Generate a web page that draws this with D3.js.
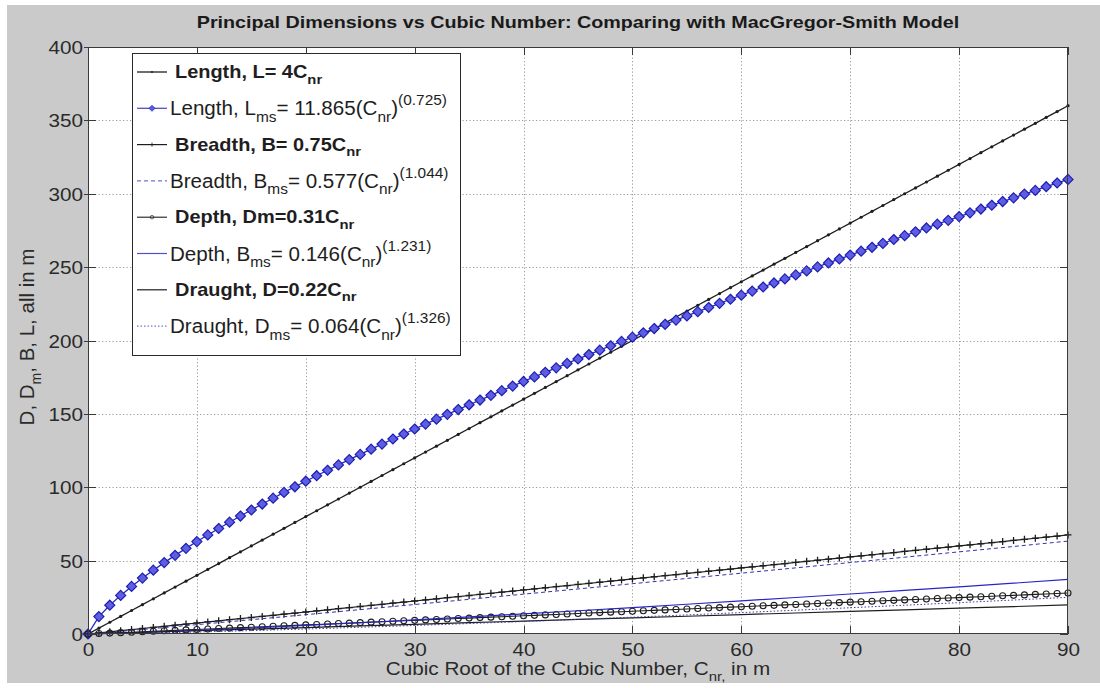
<!DOCTYPE html>
<html>
<head>
<meta charset="utf-8">
<script src="https://cdn.jsdelivr.net/npm/d3@7"></script>
<style>
  html, body { margin: 0; padding: 0; background: #ffffff; }
  svg { display: block; }
</style>
</head>
<body>
<svg id="fig" width="1100" height="688"></svg>
<script>
// Cubic root of the cubic number, sampled at every metre (marker series)
const cnr = [
  0, 1, 2, 3, 4, 5, 6, 7, 8, 9,
  10, 11, 12, 13, 14, 15, 16, 17, 18, 19,
  20, 21, 22, 23, 24, 25, 26, 27, 28, 29,
  30, 31, 32, 33, 34, 35, 36, 37, 38, 39,
  40, 41, 42, 43, 44, 45, 46, 47, 48, 49,
  50, 51, 52, 53, 54, 55, 56, 57, 58, 59,
  60, 61, 62, 63, 64, 65, 66, 67, 68, 69,
  70, 71, 72, 73, 74, 75, 76, 77, 78, 79,
  80, 81, 82, 83, 84, 85, 86, 87, 88, 89,
  90
];

// Coarser sampling used by the plain (marker-less) curves
const cnrCoarse = [0, 5, 10, 15, 20, 25, 30, 35, 40, 45, 50, 55, 60, 65, 70, 75, 80, 85, 90];

// Length, L = 4 Cnr
const lengthLinear = [
  0, 4, 8, 12, 16, 20, 24, 28, 32, 36,
  40, 44, 48, 52, 56, 60, 64, 68, 72, 76,
  80, 84, 88, 92, 96, 100, 104, 108, 112, 116,
  120, 124, 128, 132, 136, 140, 144, 148, 152, 156,
  160, 164, 168, 172, 176, 180, 184, 188, 192, 196,
  200, 204, 208, 212, 216, 220, 224, 228, 232, 236,
  240, 244, 248, 252, 256, 260, 264, 268, 272, 276,
  280, 284, 288, 292, 296, 300, 304, 308, 312, 316,
  320, 324, 328, 332, 336, 340, 344, 348, 352, 356,
  360
];

// Length, MacGregor-Smith: Lms = 11.865 Cnr^0.725
const lengthMs = [
  0, 11.87, 19.61, 26.31, 32.42, 38.11, 43.49, 48.64, 53.58, 58.36,
  62.99, 67.50, 71.89, 76.19, 80.39, 84.51, 88.56, 92.54, 96.46, 100.32,
  104.11, 107.86, 111.57, 115.22, 118.83, 122.38, 125.93, 129.42, 132.88, 136.30,
  139.68, 143.06, 146.39, 149.69, 152.96, 156.20, 159.43, 162.63, 165.81, 168.96,
  172.08, 175.20, 178.29, 181.36, 184.40, 187.42, 190.44, 193.44, 196.41, 199.37,
  202.29, 205.23, 208.15, 211.04, 213.91, 216.77, 219.64, 222.47, 225.30, 228.10,
  230.89, 233.69, 236.46, 239.21, 241.96, 244.68, 247.42, 250.13, 252.83, 255.52,
  258.19, 260.87, 263.52, 266.18, 268.82, 271.42, 274.07, 276.68, 279.27, 281.87,
  284.44, 287.01, 289.59, 292.15, 294.69, 297.22, 299.77, 302.28, 304.80, 307.31,
  309.78
];

// Breadth, B = 0.75 Cnr
const breadthLinear = [
  0, 0.75, 1.5, 2.25, 3, 3.75, 4.5, 5.25, 6, 6.75,
  7.5, 8.25, 9, 9.75, 10.5, 11.25, 12, 12.75, 13.5, 14.25,
  15, 15.75, 16.5, 17.25, 18, 18.75, 19.5, 20.25, 21, 21.75,
  22.5, 23.25, 24, 24.75, 25.5, 26.25, 27, 27.75, 28.5, 29.25,
  30, 30.75, 31.5, 32.25, 33, 33.75, 34.5, 35.25, 36, 36.75,
  37.5, 38.25, 39, 39.75, 40.5, 41.25, 42, 42.75, 43.5, 44.25,
  45, 45.75, 46.5, 47.25, 48, 48.75, 49.5, 50.25, 51, 51.75,
  52.5, 53.25, 54, 54.75, 55.5, 56.25, 57, 57.75, 58.5, 59.25,
  60, 60.75, 61.5, 62.25, 63, 63.75, 64.5, 65.25, 66, 66.75,
  67.5
];

// Breadth, MacGregor-Smith: Bms = 0.577 Cnr^1.044 (at cnrCoarse)
const breadthMs = [0, 3.10, 6.39, 9.75, 13.17, 16.62, 20.10, 23.62, 27.15, 30.70,
  34.27, 37.85, 41.45, 45.07, 48.69, 52.33, 55.98, 59.63, 63.30];

// Depth, Dm = 0.31 Cnr
const depthLinear = [
  0, 0.31, 0.62, 0.93, 1.24, 1.55, 1.86, 2.17, 2.48, 2.79,
  3.1, 3.41, 3.72, 4.03, 4.34, 4.65, 4.96, 5.27, 5.58, 5.89,
  6.2, 6.51, 6.82, 7.13, 7.44, 7.75, 8.06, 8.37, 8.68, 8.99,
  9.3, 9.61, 9.92, 10.23, 10.54, 10.85, 11.16, 11.47, 11.78, 12.09,
  12.4, 12.71, 13.02, 13.33, 13.64, 13.95, 14.26, 14.57, 14.88, 15.19,
  15.5, 15.81, 16.12, 16.43, 16.74, 17.05, 17.36, 17.67, 17.98, 18.29,
  18.6, 18.91, 19.22, 19.53, 19.84, 20.15, 20.46, 20.77, 21.08, 21.39,
  21.7, 22.01, 22.32, 22.63, 22.94, 23.25, 23.56, 23.87, 24.18, 24.49,
  24.8, 25.11, 25.42, 25.73, 26.04, 26.35, 26.66, 26.97, 27.28, 27.59,
  27.9
];

// Depth, MacGregor-Smith: 0.146 Cnr^1.231 (at cnrCoarse)
const depthMs = [0, 1.06, 2.49, 4.09, 5.83, 7.68, 9.61, 11.62, 13.69, 15.83,
  18.02, 20.26, 22.56, 24.89, 27.27, 29.69, 32.14, 34.63, 37.16];

// Draught, D = 0.22 Cnr (at cnrCoarse)
const draughtLinear = [0, 1.1, 2.2, 3.3, 4.4, 5.5, 6.6, 7.7, 8.8, 9.9,
  11, 12.1, 13.2, 14.3, 15.4, 16.5, 17.6, 18.7, 19.8];

// Draught, MacGregor-Smith: Dms = 0.064 Cnr^1.326 (at cnrCoarse)
const draughtMs = [0, 0.54, 1.36, 2.32, 3.40, 4.57, 5.82, 7.14, 8.52, 9.96,
  11.46, 13.00, 14.59, 16.22, 17.90, 19.61, 21.36, 23.15, 24.98];

// Axis ticks
const xTicks = [0, 10, 20, 30, 40, 50, 60, 70, 80, 90];
const yTicks = [0, 50, 100, 150, 200, 250, 300, 350, 400];

// Texts (segments: plain, subscript, superscript)
const titleText = "Principal Dimensions vs Cubic Number: Comparing with MacGregor-Smith Model";
const xLabelParts = [{t: "Cubic Root of the Cubic Number, C"}, {t: "nr,", sub: true}, {t: " in m"}];
const yLabelParts = [{t: "D, D"}, {t: "m", sub: true}, {t: ", B, L, all in m"}];

const legendLabels = [
  [{t: "Length, L= 4C"}, {t: "nr", sub: true}],
  [{t: "Length, L"}, {t: "ms", sub: true}, {t: "= 11.865(C"}, {t: "nr", sub: true}, {t: ")"}, {t: "(0.725)", sup: true}],
  [{t: "Breadth, B= 0.75C"}, {t: "nr", sub: true}],
  [{t: "Breadth, B"}, {t: "ms", sub: true}, {t: "= 0.577(C"}, {t: "nr", sub: true}, {t: ")"}, {t: "(1.044)", sup: true}],
  [{t: "Depth, Dm=0.31C"}, {t: "nr", sub: true}],
  [{t: "Depth, B"}, {t: "ms", sub: true}, {t: "= 0.146(C"}, {t: "nr", sub: true}, {t: ")"}, {t: "(1.231)", sup: true}],
  [{t: "Draught, D=0.22C"}, {t: "nr", sub: true}],
  [{t: "Draught, D"}, {t: "ms", sub: true}, {t: "= 0.064(C"}, {t: "nr", sub: true}, {t: ")"}, {t: "(1.326)", sup: true}]
];

// ---------------------------------------------------------------------------
const FONT = "'Liberation Sans', Arial, Helvetica, sans-serif";
const BLUE = "#2626c8";
const INK = "#1e1e1e";

const svg = d3.select("#fig");
const W = 1100, H = 688;
const plot = {left: 88, right: 1068, top: 47, bottom: 634};

// figure background
svg.append("rect").attr("x", 0).attr("y", 0).attr("width", W).attr("height", H).attr("fill", "#ffffff");
svg.append("rect").attr("x", 7).attr("y", 5).attr("width", W - 7).attr("height", H - 10).attr("fill", "#cacaca");

const x = d3.scaleLinear().domain([0, 90]).range([plot.left, plot.right]);
const y = d3.scaleLinear().domain([0, 400]).range([plot.bottom, plot.top]);

// Draws a line of text made of plain / sub / superscript segments
function richText(parent, px, py, parts, opt) {
  const size = opt.size, sx = opt.sx || 1;
  const tf = `translate(${px},${py})` + (opt.rotate ? ` rotate(${opt.rotate})` : "") + ` scale(${sx},1)`;
  const g = parent.append("g").attr("transform", tf);
  const t = g.append("text")
    .attr("font-family", FONT)
    .attr("font-size", size)
    .attr("font-weight", opt.weight || "normal")
    .attr("text-anchor", opt.anchor || "start")
    .attr("fill", opt.fill || INK);
  let off = 0;
  parts.forEach(p => {
    const target = p.sub ? size * 0.32 : p.sup ? -size * 0.5 : 0;
    t.append("tspan")
      .attr("dy", (target - off).toFixed(2))
      .attr("font-size", (p.sub || p.sup) ? (opt.smallSize || size * 0.72) : size)
      .text(p.t);
    off = target;
  });
  return g;
}

// axes background
svg.append("rect")
  .attr("x", plot.left).attr("y", plot.top)
  .attr("width", plot.right - plot.left).attr("height", plot.bottom - plot.top)
  .attr("fill", "#ffffff");

// dotted grid
const grid = svg.append("g").attr("stroke", "#9a9a9a").attr("stroke-width", 1)
  .attr("stroke-dasharray", "1.2,2.3").attr("fill", "none");
xTicks.slice(1, -1).forEach(v => {
  grid.append("line").attr("x1", Math.round(x(v)) + 0.5).attr("x2", Math.round(x(v)) + 0.5)
    .attr("y1", plot.top).attr("y2", plot.bottom);
});
yTicks.slice(1, -1).forEach(v => {
  grid.append("line").attr("y1", Math.round(y(v)) + 0.5).attr("y2", Math.round(y(v)) + 0.5)
    .attr("x1", plot.left).attr("x2", plot.right);
});

// series definitions (drawing order)
const diamondPath = "M0,-5L5,0L0,5L-5,0Z";
const plusPath = "M-3.5,0H3.5M0,-3.5V3.5";
const series = [
  {xs: cnr, ys: lengthLinear, color: INK, width: 1.3, dash: null, marker: "dot"},
  {xs: cnr, ys: lengthMs, color: BLUE, width: 1.3, dash: null, marker: "diamond"},
  {xs: cnr, ys: breadthLinear, color: INK, width: 1.2, dash: null, marker: "plus"},
  {xs: cnrCoarse, ys: breadthMs, color: "#3232b4", width: 1, dash: "4,3", marker: null},
  {xs: cnr, ys: depthLinear, color: INK, width: 1.1, dash: null, marker: "circle"},
  {xs: cnrCoarse, ys: depthMs, color: BLUE, width: 1.2, dash: null, marker: null},
  {xs: cnrCoarse, ys: draughtLinear, color: INK, width: 1.2, dash: null, marker: null},
  {xs: cnrCoarse, ys: draughtMs, color: "#3a3aaa", width: 1, dash: "1.5,2", marker: null}
];

function drawMarker(g, kind, cx, cy, color) {
  if (kind === "dot") {
    g.append("circle").attr("cx", cx).attr("cy", cy).attr("r", 1.6).attr("fill", color);
  } else if (kind === "diamond") {
    g.append("path").attr("d", diamondPath).attr("transform", `translate(${cx},${cy})`)
      .attr("fill", "#5e5ee2").attr("stroke", "#1e1eb0").attr("stroke-width", 1.2);
  } else if (kind === "plus") {
    g.append("path").attr("d", plusPath).attr("transform", `translate(${cx},${cy})`)
      .attr("fill", "none").attr("stroke", color).attr("stroke-width", 1.3);
  } else if (kind === "circle") {
    g.append("circle").attr("cx", cx).attr("cy", cy).attr("r", 3)
      .attr("fill", "none").attr("stroke", color).attr("stroke-width", 1.1);
  }
}

const plotArea = svg.append("g");
const clipId = "plotclip";
svg.append("clipPath").attr("id", clipId).append("rect")
  .attr("x", plot.left - 6).attr("y", plot.top).attr("width", plot.right - plot.left + 12)
  .attr("height", plot.bottom - plot.top + 6);
plotArea.attr("clip-path", `url(#${clipId})`);

series.forEach(s => {
  const pts = s.xs.map((v, i) => [v, s.ys[i]]);
  const line = d3.line().x(d => x(d[0])).y(d => y(d[1]));
  plotArea.append("path").attr("d", line(pts))
    .attr("fill", "none").attr("stroke", s.color).attr("stroke-width", s.width)
    .attr("stroke-dasharray", s.dash);
  if (s.marker) {
    const mg = plotArea.append("g");
    pts.forEach(d => drawMarker(mg, s.marker, x(d[0]), y(d[1]), s.color));
  }
});

// axes box and inward ticks
const axisG = svg.append("g");
axisG.append("rect")
  .attr("x", plot.left + 0.5).attr("y", plot.top + 0.5)
  .attr("width", plot.right - plot.left - 1).attr("height", plot.bottom - plot.top - 1)
  .attr("fill", "none").attr("stroke", "#3a3a3a").attr("stroke-width", 1);

const TL = 8;
const tickG = axisG.append("g").attr("stroke", "#3a3a3a").attr("stroke-width", 1);
xTicks.forEach(v => {
  const px = Math.round(x(v)) + 0.5;
  tickG.append("line").attr("x1", px).attr("x2", px).attr("y1", plot.bottom).attr("y2", plot.bottom - TL);
  tickG.append("line").attr("x1", px).attr("x2", px).attr("y1", plot.top).attr("y2", plot.top + TL);
});
yTicks.forEach(v => {
  const py = Math.round(y(v)) + 0.5;
  tickG.append("line").attr("y1", py).attr("y2", py).attr("x1", plot.left).attr("x2", plot.left + TL);
  tickG.append("line").attr("y1", py).attr("y2", py).attr("x1", plot.right).attr("x2", plot.right - TL);
  tickG.append("line").attr("y1", py).attr("y2", py).attr("x1", plot.left - 4).attr("x2", plot.left);
});

// tick labels via d3 axes (lines hidden; box drawn above)
const xAxis = d3.axisBottom(x).tickValues(xTicks).tickSize(0).tickPadding(0).tickFormat(d3.format("d"));
const yAxis = d3.axisLeft(y).tickValues(yTicks).tickSize(0).tickPadding(0).tickFormat(d3.format("d"));
const SX = 1.15;

const gx = svg.append("g").attr("transform", `translate(0,${plot.bottom})`).call(xAxis);
gx.select(".domain").remove();
gx.selectAll("text")
  .attr("y", 0).attr("dy", 0)
  .attr("transform", `translate(0,21.5) scale(${SX},1)`)
  .attr("font-family", FONT).attr("font-size", 18).attr("fill", "#2a2a2a");

const gy = svg.append("g").attr("transform", `translate(${plot.left - 5},0)`).call(yAxis);
gy.select(".domain").remove();
gy.selectAll("text")
  .attr("x", 0).attr("dy", 0)
  .attr("transform", `translate(0,6.5) scale(${SX},1)`)
  .attr("font-family", FONT).attr("font-size", 18).attr("fill", "#2a2a2a");

// title and axis labels
richText(svg, (plot.left + plot.right) / 2, 28, [{t: titleText}],
  {size: 17, weight: "bold", anchor: "middle", sx: 1.16, fill: "#1a1a1a"});
richText(svg, (plot.left + plot.right) / 2, 675, xLabelParts,
  {size: 18, anchor: "middle", sx: 1.15, fill: "#2a2a2a", smallSize: 13});
richText(svg, 34, 337, yLabelParts,
  {size: 20.5, anchor: "middle", rotate: -90, sx: 1, fill: "#2a2a2a", smallSize: 14});

// legend
const leg = {x: 132, y: 53, w: 328, h: 302, row0: 72, step: 36.3};
const lg = svg.append("g");
lg.append("rect").attr("x", leg.x + 0.5).attr("y", leg.y + 0.5).attr("width", leg.w).attr("height", leg.h)
  .attr("fill", "#ffffff").attr("stroke", "#2a2a2a").attr("stroke-width", 1);

series.forEach((s, i) => {
  const cy = leg.row0 + i * leg.step;
  const legColor = s.color === INK ? INK : "#5050c8";
  lg.append("line").attr("x1", 137).attr("x2", 167).attr("y1", cy).attr("y2", cy)
    .attr("stroke", legColor).attr("stroke-width", s.width).attr("stroke-dasharray", s.dash);
  if (s.marker) {
    const mg = lg.append("g").attr("transform", `translate(152,${cy}) scale(0.6)`);
    drawMarker(mg, s.marker, 0, 0, s.color);
  }
  const bold = i % 2 === 0;
  richText(lg, bold ? 175 : 170, cy + (bold ? 6 : 7), legendLabels[i],
    bold ? {size: 17.5, weight: "bold", sx: 1.14, smallSize: 13}
         : {size: 20, sx: 1.03, smallSize: 15});
});
</script>
</body>
</html>
